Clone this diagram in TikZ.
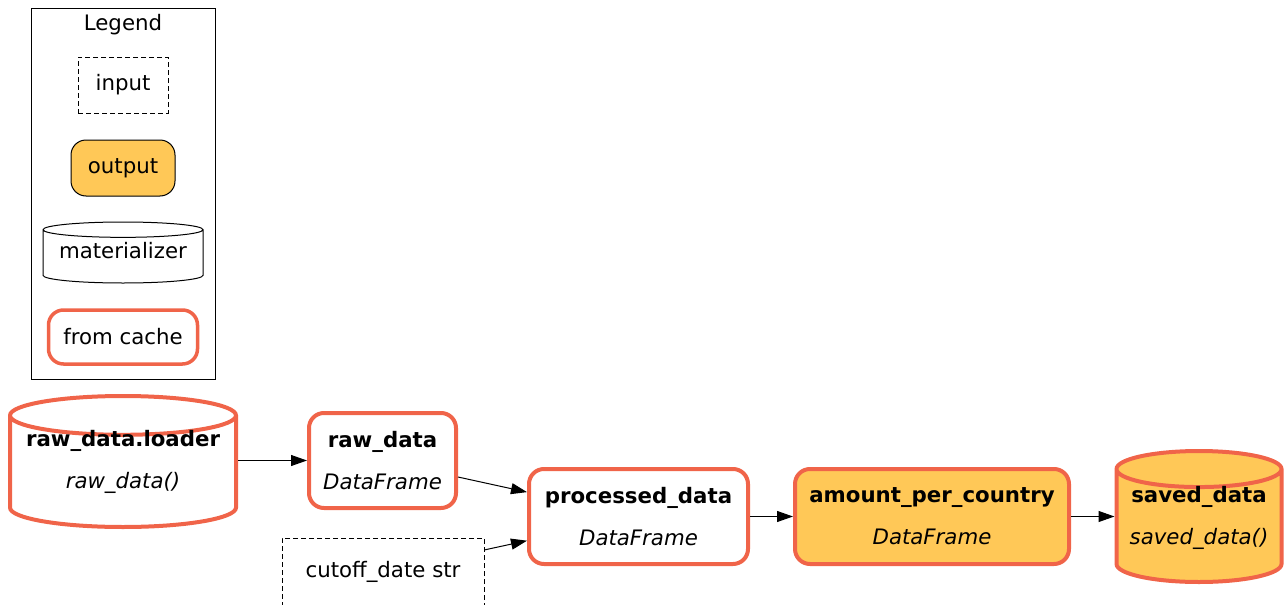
\documentclass[tikz,border=0pt]{standalone}
\usepackage{fontspec}
\setmainfont{DejaVu Sans}
\usetikzlibrary{shapes.geometric,arrows.meta}
\definecolor{Cache}{HTML}{F06449}
\definecolor{Output}{HTML}{FFC857}

\begin{document}
\begin{tikzpicture}[x=1pt,y=-1pt,
  every node/.style={font=\fontsize{21.3}{42}\selectfont,align=center,inner sep=0pt},
  cached/.style={draw=Cache,line width=4pt},
  roundbox/.style={rectangle,rounded corners=15pt,minimum height=95pt},
  drum/.style={cylinder,shape border rotate=90,anchor=shape center},
  inputbox/.style={draw,dash pattern=on 5pt off 3pt,line width=1pt},
  flow/.style={-{Triangle[length=16pt,width=11pt]},line width=1pt}]
  \useasboundingbox (0,0) rectangle (1288,605);
  % legend
  \draw[line width=1pt] (31,8) rectangle (215,379);
  \node (legend) at (123,25) {Legend};
  \node[inputbox,minimum width=90pt,minimum height=56pt] (keyinput) at (123,85) {input};
  \node[roundbox,draw,fill=Output,line width=1pt,minimum width=104pt,minimum height=56pt] (keyoutput) at (123,168) {output};
  \node[drum,draw,line width=1pt,aspect=0.12,text depth=12pt,minimum width=160pt,minimum height=61pt] (keymat) at (123,252.5) {materializer};
  \node[roundbox,cached,line width=3.5pt,minimum width=149pt,minimum height=54pt] (keycache) at (123,337) {from cache};
  % dataflow
  \node[drum,cached,aspect=0.2,text height=48pt,text depth=15pt,minimum width=226pt,minimum height=131pt] (loader) at (123,461.5) {\textbf{raw\_data.loader}\\\textit{raw\_data()}};
  \node[roundbox,cached,minimum width=147pt] (rawdata) at (382.5,460.5) {\textbf{raw\_data}\\\textit{DataFrame}};
  \node[roundbox,cached,minimum width=219pt] (processed) at (638.5,516.5) {\textbf{processed\_data}\\\textit{DataFrame}};
  \node[roundbox,cached,fill=Output,minimum width=274pt] (amount) at (932,516.5) {\textbf{amount\_per\_country}\\\textit{DataFrame}};
  \node[drum,cached,fill=Output,aspect=0.26,text height=49pt,text depth=14pt,minimum width=165pt,minimum height=131pt] (saved) at (1199,516.5) {\textbf{saved\_data}\\\textit{saved\_data()}};
  \node[inputbox,minimum width=202pt,minimum height=68pt] (cutoff) at (383,572) {cutoff\_date str};
  \draw[flow] (loader.east |- rawdata) -- (rawdata);
  \draw[flow] (rawdata) -- (processed);
  \draw[flow] (cutoff) -- (processed);
  \draw[flow] (processed) -- (amount);
  \draw[flow] (amount) -- (saved.west |- amount);
\end{tikzpicture}
\end{document}
